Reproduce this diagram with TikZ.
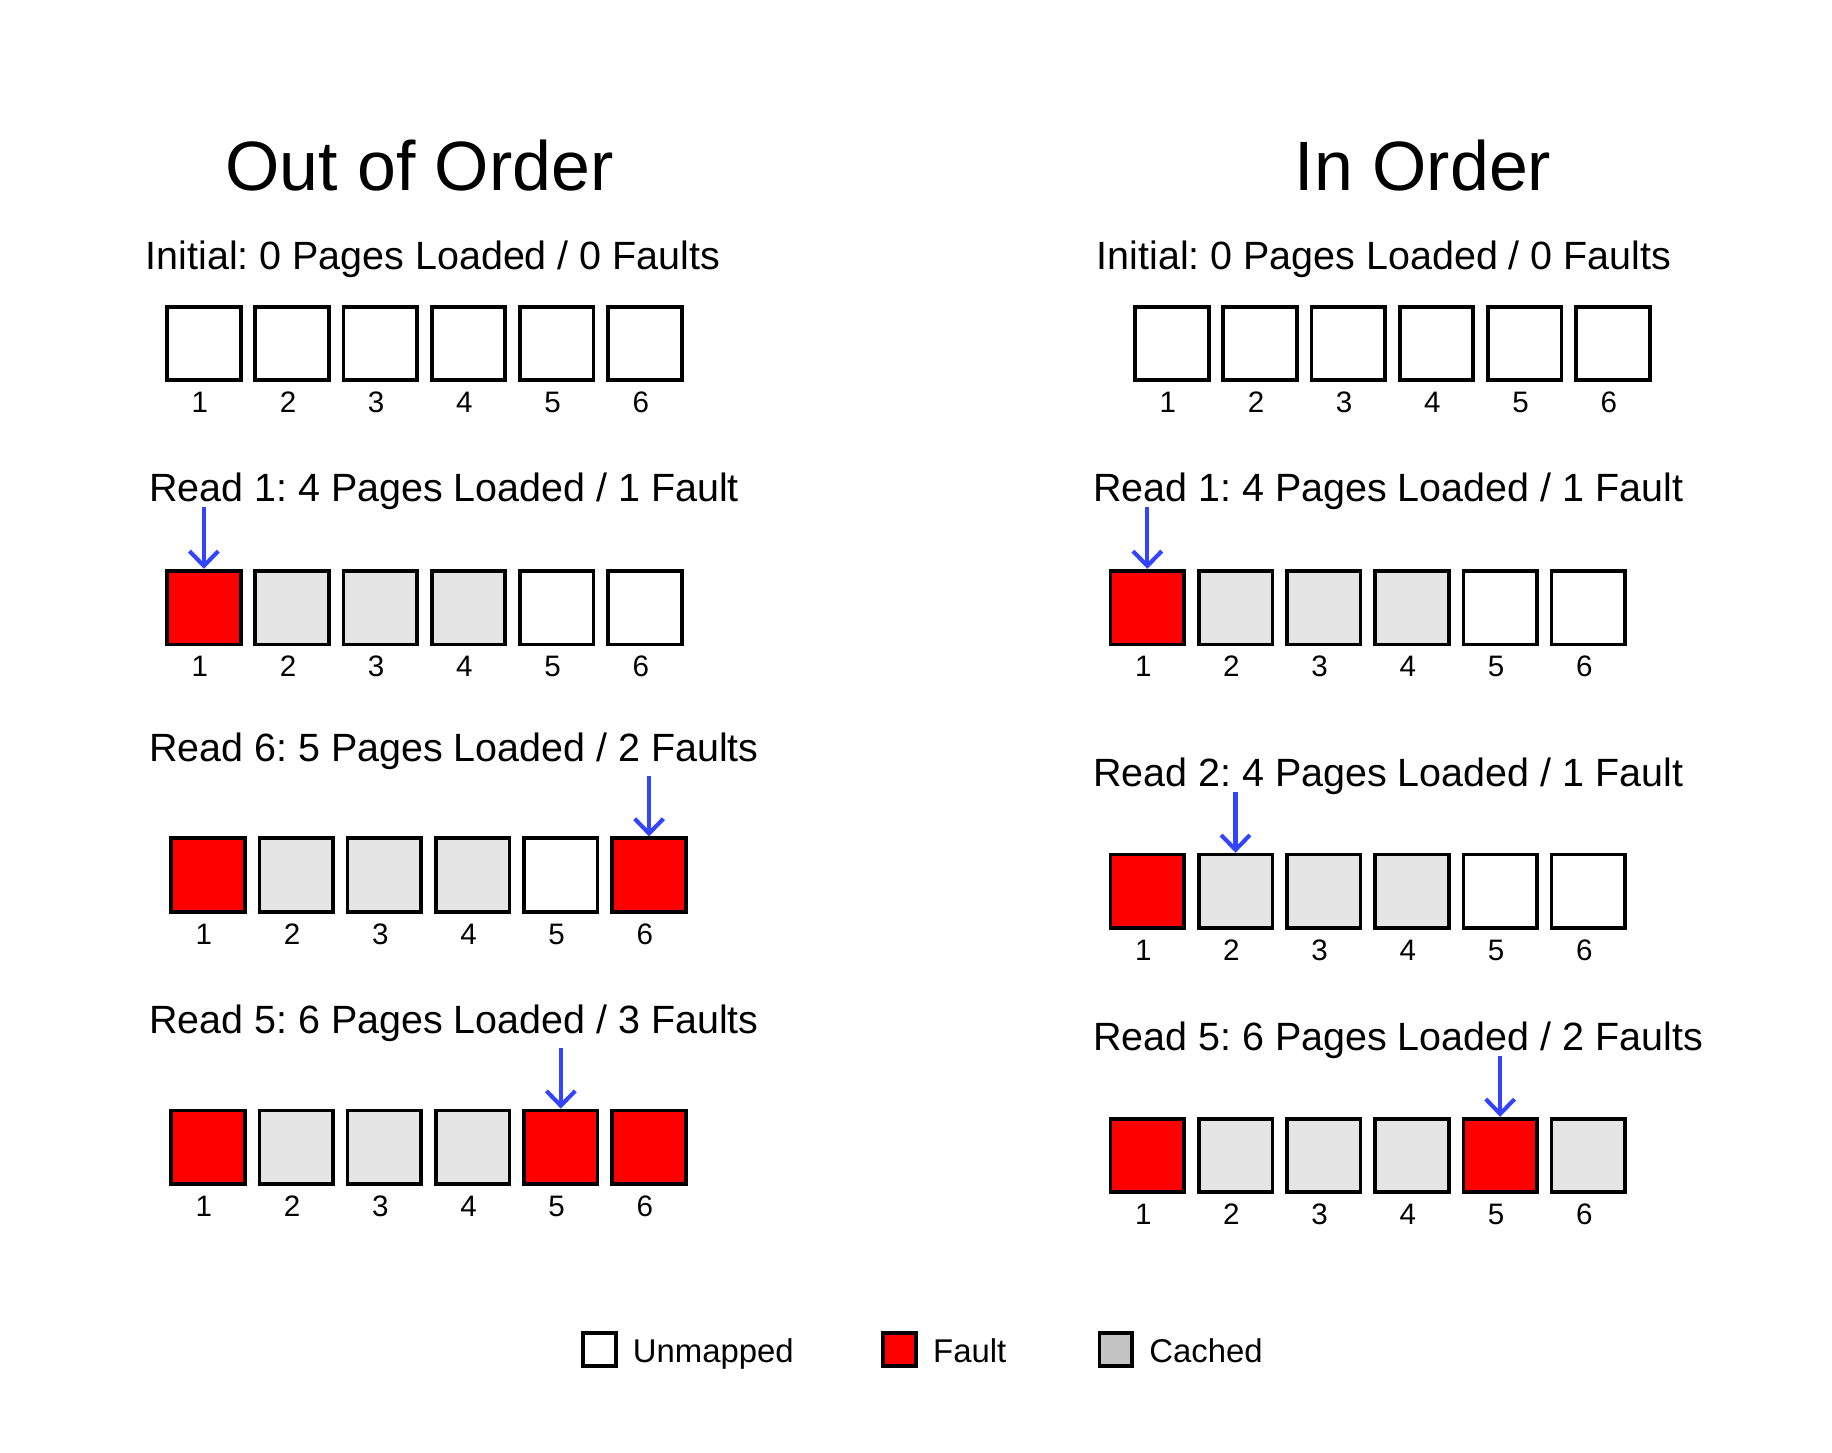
\documentclass[tikz,border=0pt]{standalone}
\usepackage{fontspec}
\setmainfont{Liberation Sans}
\frenchspacing
\usepackage{xcolor}
\usetikzlibrary{arrows.meta}
\definecolor{faultred}{RGB}{255,0,0}
\definecolor{cachegray}{RGB}{229,229,229}
\definecolor{legendgray}{RGB}{196,196,196}
\definecolor{readblue}{RGB}{51,68,255}
\tikzset{
  pagebox/.style={draw, line width=0.9pt, inner sep=0pt, minimum size=0.63cm},
  unmapped/.style={fill=white},
  fault/.style={fill=faultred},
  cached/.style={fill=cachegray},
  numlbl/.style={anchor=base, inner sep=0pt, font=\fontsize{7.2pt}{8pt}\selectfont},
  bigtitle/.style={anchor=base, inner sep=0pt, font=\fontsize{17pt}{20pt}\selectfont},
  steptitle/.style={anchor=base west, inner sep=0pt, font=\fontsize{9.6pt}{12pt}\selectfont},
  readarrow/.style={draw=readblue, line width=1pt, -{Straight Barb[length=3.6pt,width=7pt]}},
  lgbox/.style={draw, line width=0.9pt, inner sep=0pt, minimum size=0.28cm},
  lgtext/.style={anchor=base west, inner sep=0pt, font=\fontsize{8pt}{10pt}\selectfont}
}
% one row of six pages: name, x of first centre, y, fills
\newcommand\pagerow[4]{%
  \foreach \c [count=\i] in {#4} {%
    \node[pagebox,\c] (#1-\i) at ({#2+75.5*(\i-1)},#3) {};
    \node[numlbl] (#1n\i) at ([xshift=-0.035cm,yshift=-0.26cm]#1-\i.south) {\i};
  }%
}
\begin{document}
\begin{tikzpicture}[x=0.01cm, y=-0.01cm]
        \useasboundingbox (0,0) rectangle (1568,1243);
        %TITLES
        \node[bigtitle] (tOut) at (359,163) {Out of Order};
        \node[bigtitle] (tIn) at (1218,163) {In Order};
        %LEFT SIDE
        \node[steptitle] (sL1) at (124,231) {Initial: 0 Pages Loaded / 0 Faults};
        \pagerow{L1}{174.5}{294}{unmapped,unmapped,unmapped,unmapped,unmapped,unmapped}
        \node[steptitle] (sL2) at (127,429) {Read 1: 4 Pages Loaded / 1 Fault};
        \pagerow{L2}{174.5}{520}{fault,cached,cached,cached,unmapped,unmapped}
        \node[steptitle] (sL3) at (127,652) {Read 6: 5 Pages Loaded / 2 Faults};
        \pagerow{L3}{178}{749}{fault,cached,cached,cached,unmapped,fault}
        \node[steptitle] (sL4) at (127,885) {Read 5: 6 Pages Loaded / 3 Faults};
        \pagerow{L4}{178}{982}{fault,cached,cached,cached,fault,fault}
        %RIGHT SIDE
        \node[steptitle] (sR1) at (938,231) {Initial: 0 Pages Loaded / 0 Faults};
        \pagerow{R1}{1003}{294}{unmapped,unmapped,unmapped,unmapped,unmapped,unmapped}
        \node[steptitle] (sR2) at (935,429) {Read 1: 4 Pages Loaded / 1 Fault};
        \pagerow{R2}{982}{520}{fault,cached,cached,cached,unmapped,unmapped}
        \node[steptitle] (sR3) at (935,673) {Read 2: 4 Pages Loaded / 1 Fault};
        \pagerow{R3}{982}{763}{fault,cached,cached,cached,unmapped,unmapped}
        \node[steptitle] (sR4) at (935,899) {Read 5: 6 Pages Loaded / 2 Faults};
        \pagerow{R4}{982}{989}{fault,cached,cached,cached,fault,cached}
        %ARROWS
        \coordinate (aL2) at ([yshift=0.53cm]L2-1.north);
        \coordinate (aL3) at ([yshift=0.52cm]L3-6.north);
        \coordinate (aL4) at ([yshift=0.52cm]L4-5.north);
        \coordinate (aR2) at ([yshift=0.53cm]R2-1.north);
        \coordinate (aR3) at ([yshift=0.52cm]R3-2.north);
        \coordinate (aR4) at ([yshift=0.52cm]R4-5.north);
        \draw[readarrow] (aL2) -- (L2-1.north);
        \draw[readarrow] (aL3) -- (L3-6.north);
        \draw[readarrow] (aL4) -- (L4-5.north);
        \draw[readarrow] (aR2) -- (R2-1.north);
        \draw[readarrow] (aR3) -- (R3-2.north);
        \draw[readarrow] (aR4) -- (R4-5.north);
        %LEGEND
        \node[lgbox, fill=white] (lgU) at (513,1155) {};
        \node[lgtext] (lgUt) at (541,1166) {Unmapped};
        \node[lgbox, fill=faultred] (lgF) at (770,1155) {};
        \node[lgtext] (lgFt) at (798,1166) {Fault};
        \node[lgbox, fill=legendgray] (lgC) at (955,1155) {};
        \node[lgtext] (lgCt) at (983,1166) {Cached};
\end{tikzpicture}
\end{document}
